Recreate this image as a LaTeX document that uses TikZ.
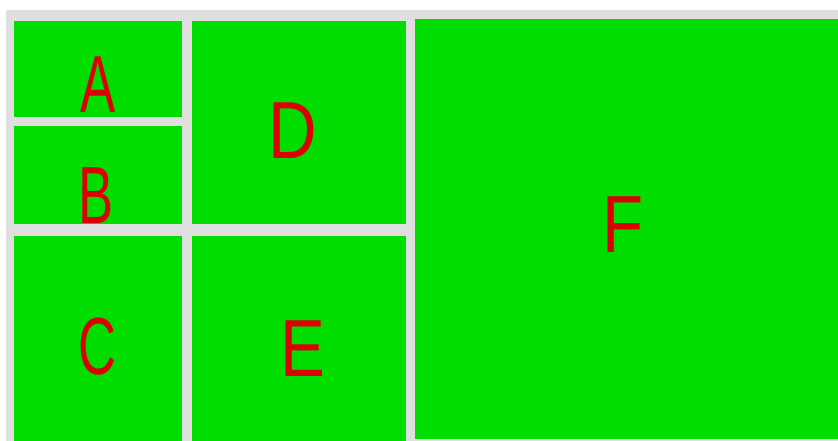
\documentclass[tikz,border=0pt]{standalone}
\usepackage{fontspec}
\usepackage{xcolor}
\usepackage{tikz}
\usetikzlibrary{positioning}
\newfontfamily\narrowletters[FakeStretch=0.65]{Liberation Sans}
\newfontfamily\wideletters[FakeStretch=0.83]{Liberation Sans}
\definecolor{tileGreen}{HTML}{00DD00}
\definecolor{tileRed}{HTML}{DD0000}
\definecolor{tileGap}{HTML}{DFDFDF}
\tikzset{
  tile/.style={
    rectangle, fill=tileGreen,
    inner sep=0pt, outer sep=0pt,
    anchor=north west
  },
  letter/.style={
    text=tileRed, anchor=base,
    inner sep=0pt,
    font=#1\fontsize{81}{81}\selectfont
  }
}

\begin{document}
\begin{tikzpicture}[x=1pt, y=-1pt]
        \useasboundingbox (0,0) rectangle (838,441);
        \fill[tileGap] (6,10) rectangle (838,441);
        % tiles
        \node[tile, minimum width=168pt, minimum height=96pt] (tileA) at (14,21) {};
        \node[tile, minimum width=168pt, minimum height=98pt] (tileB) at (14,126) {};
        \node[tile, minimum width=168pt, minimum height=205pt] (tileC) at (14,236) {};
        \node[tile, minimum width=214pt, minimum height=203pt] (tileD) at (192,21) {};
        \node[tile, minimum width=214pt, minimum height=205pt] (tileE) at (192,236) {};
        \node[tile, minimum width=423pt, minimum height=420pt] (tileF) at (415,19) {};
        % letters
        \node[letter=\narrowletters] (labA) at (98,113) {A};
        \node[letter=\narrowletters] (labB) at (96.5,223) {B};
        \node[letter=\narrowletters] (labC) at (97.5,374) {C};
        \node[letter=\wideletters] (labD) at (292.5,159) {D};
        \node[letter=\wideletters] (labE) at (303,376) {E};
        \node[letter=\wideletters] (labF) at (623,252) {F};
      \end{tikzpicture}
\end{document}
